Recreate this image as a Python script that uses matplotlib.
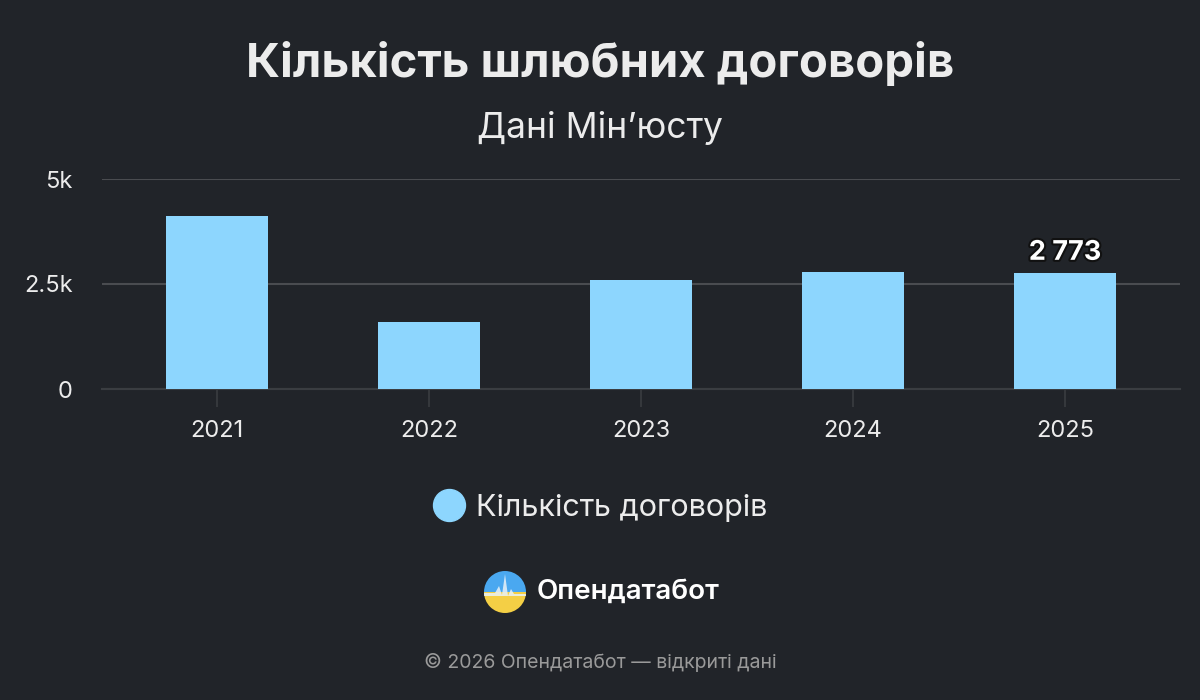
import matplotlib
matplotlib.use("Agg")
import matplotlib.pyplot as plt
from matplotlib.lines import Line2D
from matplotlib.patches import Wedge, Polygon
import matplotlib.patheffects as pe

years = ["2021", "2022", "2023", "2024", "2025"]
values = [4120, 1600, 2600, 2785, 2773]
ytick_vals = [0, 2500, 5000]
ytick_labels = ["0", "2.5k", "5k"]
title = "Кількість шлюбних договорів"
subtitle = "Дані Мін’юсту"
series_name = "Кількість договорів"
brand = "Опендатабот"
footer = "© 2026 Опендатабот — відкриті дані"
last_label = "2 773"

BG = "#212429"
BAR = "#8dd6fe"
GRID = "#4a4c50"
AXIS = "#3a3d41"
TXT = "#ececec"
FONT = ['Inter', 'DejaVu Sans']

plt.rcParams['font.family'] = FONT

fig = plt.figure(figsize=(12, 7), dpi=100, facecolor=BG)
ax = fig.add_axes([102/1200, 1-389/700, (1180-102)/1200, 210/700])
ax.set_facecolor(BG)

x = list(range(len(years)))
ax.bar(x, values, width=0.48, color=BAR, zorder=3)
ax.set_xlim(-0.542, 4.542)
ax.set_ylim(0, 5000)
ax.set_yticks(ytick_vals)
ax.set_yticklabels(ytick_labels)
ax.set_xticks(x)
ax.set_xticklabels(years)
for s in ["top", "right", "left"]:
    ax.spines[s].set_visible(False)
ax.spines["bottom"].set_color(AXIS)
ax.spines["bottom"].set_linewidth(1.5)
ax.grid(axis="y", color=GRID, linewidth=1.5, zorder=0)
ax.tick_params(axis="y", length=0, pad=21, labelsize=17, labelcolor=TXT)
ax.tick_params(axis="x", length=13, width=1.2, color=AXIS, pad=9, labelsize=17, labelcolor=TXT)

ax.text(x[-1], values[-1] + 160, last_label, ha="center", va="bottom", fontsize=19.5,
        fontweight="bold", color="white", zorder=5,
        path_effects=[pe.withStroke(linewidth=3, foreground="#111111")])

fig.text(0.5, 1-65/700, title, ha="center", va="center", fontsize=34, fontweight="bold", color=TXT)
fig.text(0.5, 1-128/700, subtitle, ha="center", va="center", fontsize=25.5, color=TXT)

handle = Line2D([0], [0], marker="o", linestyle="none", markersize=23,
                markerfacecolor=BAR, markeredgecolor=BAR)
leg = fig.legend([handle], [series_name], loc="center", bbox_to_anchor=(0.494, 1-508/700),
                 frameon=False, labelcolor=TXT, handletextpad=-0.1,
                 prop={'family': FONT, 'size': 22})

# logo
lax = fig.add_axes([0, 0, 1, 1], facecolor="none")
lax.set_xlim(0, 1200)
lax.set_ylim(700, 0)
lax.axis("off")
cx, cy, r = 505, 592, 21
lax.add_patch(Wedge((cx, cy), r, 180, 360, facecolor="#4aa8f0", edgecolor="none"))
lax.add_patch(Wedge((cx, cy), r, 0, 180, facecolor="#f4cf45", edgecolor="none"))
lax.add_patch(Polygon([(cx-21, cy+1), (cx-10, cy+1), (cx-6, cy-6), (cx-3, cy+3), (cx, cy-18),
                       (cx+3, cy+4), (cx+6, cy-3), (cx+9, cy+2), (cx+21, cy+2), (cx+21, cy+4),
                       (cx-21, cy+4)], closed=True, facecolor="#e9f2f8", edgecolor="none", alpha=0.85))
lax.text(537, 592, brand, ha="left", va="center", fontsize=20, fontweight="semibold",
         color="white")
lax.text(600, 663, footer, ha="center", va="center", fontsize=14, color="#9a9a9a")

fig.savefig("out.png", dpi=100, facecolor=BG)
